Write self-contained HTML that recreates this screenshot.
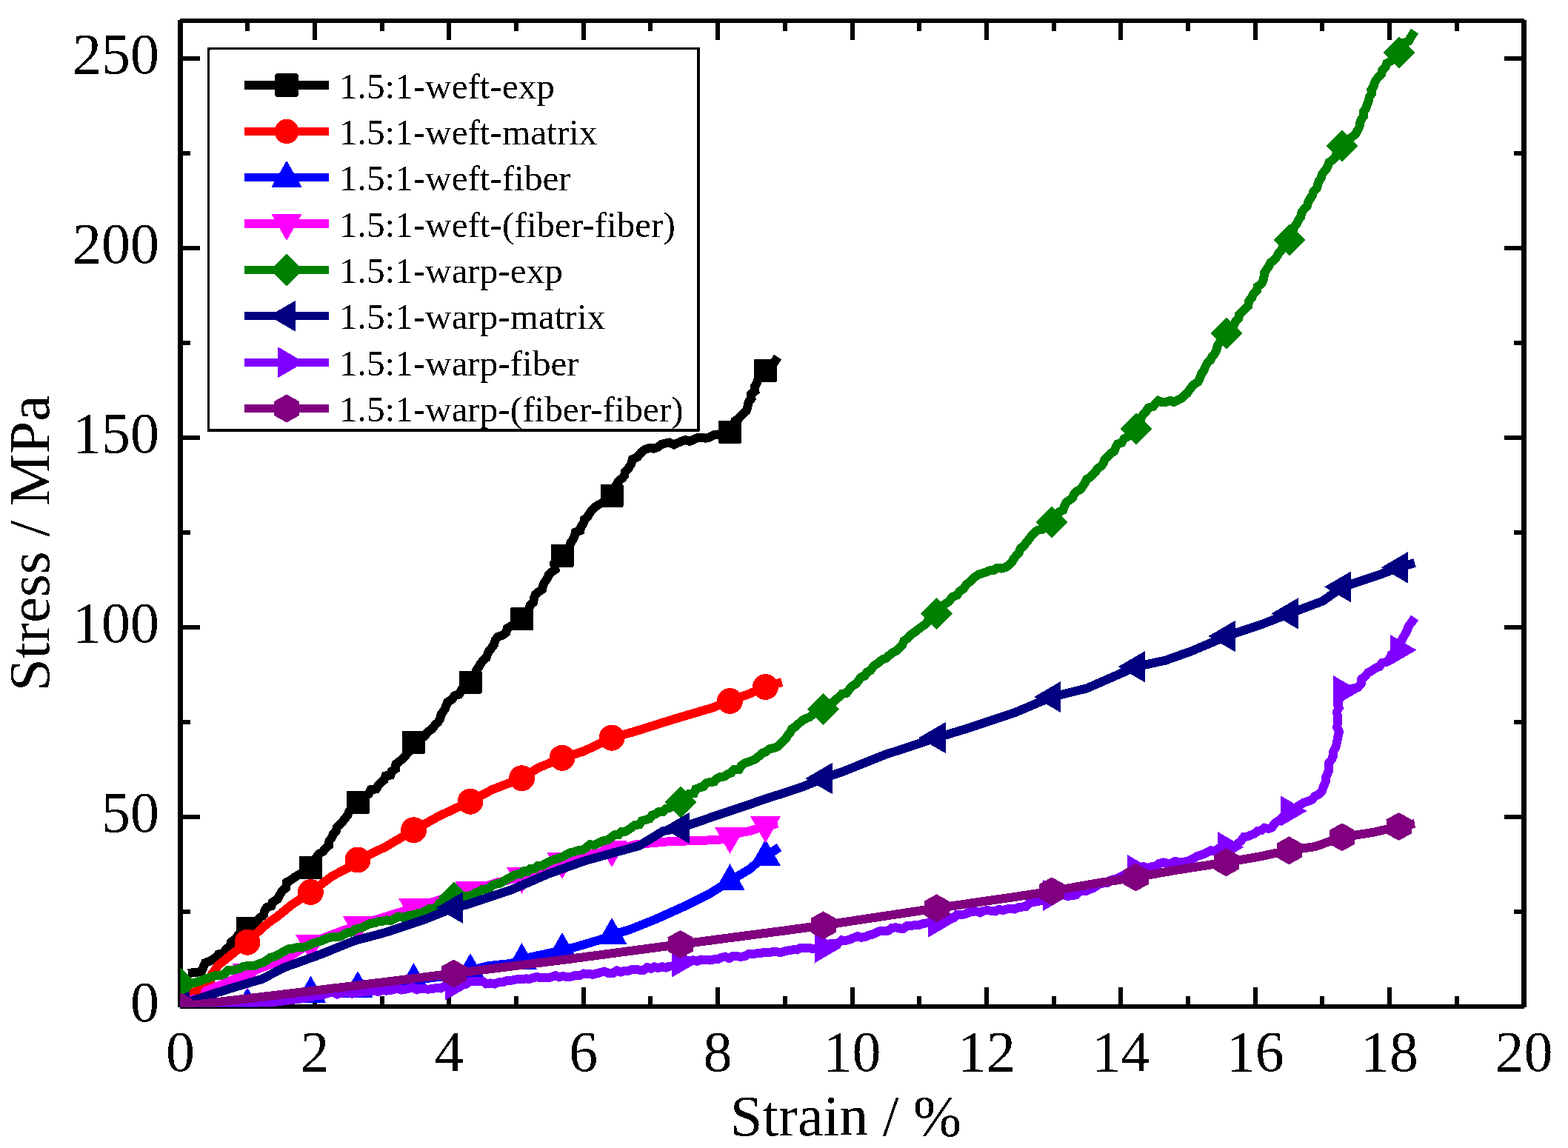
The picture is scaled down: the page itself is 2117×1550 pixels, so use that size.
<!DOCTYPE html><html><head><meta charset="utf-8"><title>Stress-strain</title><style>html,body{margin:0;padding:0;background:#fff;}svg{display:block;}text{font-family:"Liberation Serif","Times New Roman",serif;fill:#000;}</style></head><body>
<svg width="2117" height="1550" viewBox="0 0 2117 1550">
<rect x="0" y="0" width="2117" height="1550" fill="#fff"/>
<defs><filter id="crisp" x="-2%" y="-2%" width="104%" height="104%" color-interpolation-filters="sRGB"><feComponentTransfer><feFuncA type="discrete" tableValues="0 1"/></feComponentTransfer></filter></defs>
<g fill="#000" shape-rendering="crispEdges">
<rect x="240" y="27" width="7" height="1333"/>
<rect x="2054" y="27" width="7" height="1333"/>
<rect x="243" y="25" width="1815" height="6"/>
<rect x="243" y="1356" width="1815" height="6"/>
<rect x="331.2" y="1345" width="6" height="11"/>
<rect x="331.2" y="31" width="6" height="11"/>
<rect x="421.9" y="1333" width="6" height="23"/>
<rect x="421.9" y="31" width="6" height="23"/>
<rect x="512.6" y="1345" width="6" height="11"/>
<rect x="512.6" y="31" width="6" height="11"/>
<rect x="603.3" y="1333" width="6" height="23"/>
<rect x="603.3" y="31" width="6" height="23"/>
<rect x="694.0" y="1345" width="6" height="11"/>
<rect x="694.0" y="31" width="6" height="11"/>
<rect x="784.7" y="1333" width="6" height="23"/>
<rect x="784.7" y="31" width="6" height="23"/>
<rect x="875.4" y="1345" width="6" height="11"/>
<rect x="875.4" y="31" width="6" height="11"/>
<rect x="966.1" y="1333" width="6" height="23"/>
<rect x="966.1" y="31" width="6" height="23"/>
<rect x="1056.8" y="1345" width="6" height="11"/>
<rect x="1056.8" y="31" width="6" height="11"/>
<rect x="1147.5" y="1333" width="6" height="23"/>
<rect x="1147.5" y="31" width="6" height="23"/>
<rect x="1238.2" y="1345" width="6" height="11"/>
<rect x="1238.2" y="31" width="6" height="11"/>
<rect x="1328.9" y="1333" width="6" height="23"/>
<rect x="1328.9" y="31" width="6" height="23"/>
<rect x="1419.6" y="1345" width="6" height="11"/>
<rect x="1419.6" y="31" width="6" height="11"/>
<rect x="1510.3" y="1333" width="6" height="23"/>
<rect x="1510.3" y="31" width="6" height="23"/>
<rect x="1601.0" y="1345" width="6" height="11"/>
<rect x="1601.0" y="31" width="6" height="11"/>
<rect x="1691.7" y="1333" width="6" height="23"/>
<rect x="1691.7" y="31" width="6" height="23"/>
<rect x="1782.4" y="1345" width="6" height="11"/>
<rect x="1782.4" y="31" width="6" height="11"/>
<rect x="1873.1" y="1333" width="6" height="23"/>
<rect x="1873.1" y="31" width="6" height="23"/>
<rect x="1963.8" y="1345" width="6" height="11"/>
<rect x="1963.8" y="31" width="6" height="11"/>
<rect x="247" y="1228.0" width="10" height="6"/>
<rect x="2044" y="1228.0" width="10" height="6"/>
<rect x="247" y="1100.0" width="23" height="6"/>
<rect x="2031" y="1100.0" width="23" height="6"/>
<rect x="247" y="972.0" width="10" height="6"/>
<rect x="2044" y="972.0" width="10" height="6"/>
<rect x="247" y="844.0" width="23" height="6"/>
<rect x="2031" y="844.0" width="23" height="6"/>
<rect x="247" y="716.0" width="10" height="6"/>
<rect x="2044" y="716.0" width="10" height="6"/>
<rect x="247" y="588.0" width="23" height="6"/>
<rect x="2031" y="588.0" width="23" height="6"/>
<rect x="247" y="460.0" width="10" height="6"/>
<rect x="2044" y="460.0" width="10" height="6"/>
<rect x="247" y="332.0" width="23" height="6"/>
<rect x="2031" y="332.0" width="23" height="6"/>
<rect x="247" y="204.0" width="10" height="6"/>
<rect x="2044" y="204.0" width="10" height="6"/>
<rect x="247" y="76.0" width="23" height="6"/>
<rect x="2031" y="76.0" width="23" height="6"/>
</g>
<defs><clipPath id="plotclip"><rect x="243.5" y="28" width="1814" height="1331.5"/></clipPath><filter id="rough" x="-5%" y="-5%" width="110%" height="110%"><feTurbulence type="fractalNoise" baseFrequency="0.25" numOctaves="2" seed="3" result="n"/><feDisplacementMap in="SourceGraphic" in2="n" scale="5" xChannelSelector="R" yChannelSelector="G"/></filter></defs>
<g clip-path="url(#plotclip)" shape-rendering="crispEdges">
<polyline points="254.0,1314.0 272.0,1312.0 277.0,1300.0 285.0,1297.0 291.0,1293.0 295.0,1288.4 301.0,1287.0 306.0,1281.0 310.5,1277.5 312.0,1272.0 318.0,1268.0 322.0,1262.0 325.2,1258.0 330.0,1256.0 334.0,1253.0 337.8,1249.5 342.5,1247.1 346.9,1244.4 350.0,1240.0 356.0,1235.0 357.3,1229.5 360.0,1225.1 366.4,1223.3 368.0,1218.0 375.0,1214.0 377.7,1208.3 381.0,1203.0 386.1,1198.9 387.0,1191.4 393.0,1188.0 398.8,1183.8 405.0,1180.0 410.4,1178.0 413.9,1172.8 419.5,1171.0 424.6,1168.2 427.7,1163.9 427.5,1156.9 430.8,1152.7 436.0,1150.0 439.2,1145.4 443.9,1141.7 444.5,1135.4 448.0,1131.0 449.8,1125.8 453.7,1122.1 455.0,1116.6 458.8,1112.8 462.7,1109.1 466.0,1105.0 469.3,1100.7 471.5,1095.6 474.9,1091.3 478.1,1087.0 482.6,1083.6 487.6,1079.6 492.2,1075.0 498.0,1072.0 500.6,1066.2 507.9,1065.3 511.0,1060.0 514.8,1056.4 518.7,1052.9 520.6,1047.5 527.3,1046.6 529.0,1041.0 533.9,1038.2 534.5,1031.7 538.8,1028.4 543.0,1025.0 547.1,1021.1 550.1,1016.5 554.2,1012.7 555.1,1006.6 558.6,1002.3 564.6,1000.7 569.3,996.9 574.0,993.0 578.0,987.8 583.5,984.0 586.9,979.4 591.2,975.4 594.1,970.5 595.6,964.7 599.0,960.1 601.6,955.0 604.2,948.0 610.6,944.0 613.7,939.2 619.8,937.5 622.5,932.2 625.7,927.4 631.1,925.0 635.0,921.0 638.8,916.3 641.6,910.9 643.2,904.9 646.7,900.0 649.3,895.5 652.5,891.5 656.6,888.0 658.4,882.9 660.7,878.3 664.1,874.3 667.0,870.0 668.7,864.1 672.4,859.7 678.6,857.5 683.3,854.0 685.0,848.0 690.1,845.4 694.5,841.5 698.7,837.5 704.5,835.9 707.3,831.3 712.2,827.9 714.0,822.7 715.7,817.4 719.9,813.6 721.0,808.0 722.8,802.7 727.1,799.0 732.0,795.8 733.3,790.2 735.8,785.4 739.0,781.0 740.9,776.0 744.9,772.4 749.6,769.1 748.3,762.1 754.5,759.9 757.5,755.6 759.0,750.3 763.5,747.0 765.7,742.2 768.8,738.1 770.4,732.9 773.4,728.6 775.7,723.9 776.9,718.5 783.3,716.4 784.5,711.0 787.7,706.8 789.0,701.3 793.2,697.8 796.0,693.4 799.0,689.0 803.0,685.1 807.5,681.8 812.5,679.3 817.2,676.4 821.7,673.1 825.8,669.3 828.2,664.6 828.9,658.9 832.4,654.8 834.7,650.0 839.2,646.4 843.0,642.5 844.0,637.0 848.7,632.1 852.0,626.4 854.0,620.0 860.8,616.8 865.5,611.0 870.7,606.9 877.0,605.0 882.8,605.7 888.0,603.9 892.9,599.9 898.3,598.5 903.7,597.5 909.8,600.3 915.0,598.0 920.2,595.8 925.4,594.1 931.2,595.9 936.4,593.5 941.5,591.2 946.9,590.7 952.6,591.7 958.0,590.6 963.0,587.5 968.6,586.5 974.7,587.2 979.8,584.5 985.3,583.2 987.6,578.1 991.3,574.0 992.4,568.2 997.5,565.0 1002.0,559.6 1007.4,555.0 1009.4,549.2 1010.6,543.0 1014.5,538.0 1014.0,532.1 1019.4,527.9 1018.8,522.0 1021.7,517.7 1023.3,512.5 1028.0,509.3 1031.8,505.6 1033.3,500.3 1035.6,495.0 1039.4,491.6 1045.0,490.0 1050.0,482.0" fill="none" stroke="#000000" stroke-width="12" stroke-linejoin="miter" stroke-miterlimit="2.5" stroke-linecap="butt"/>
<rect x="318.5" y="1237.5" width="31.0" height="31.0" rx="1.5" fill="#000000"/>
<rect x="404.0" y="1155.5" width="31.0" height="31.0" rx="1.5" fill="#000000"/>
<rect x="467.5" y="1068.1" width="31.0" height="31.0" rx="1.5" fill="#000000"/>
<rect x="543.0" y="986.8" width="31.0" height="31.0" rx="1.5" fill="#000000"/>
<rect x="619.5" y="905.5" width="31.0" height="31.0" rx="1.5" fill="#000000"/>
<rect x="689.0" y="820.4" width="31.0" height="31.0" rx="1.5" fill="#000000"/>
<rect x="743.5" y="734.8" width="31.0" height="31.0" rx="1.5" fill="#000000"/>
<rect x="810.5" y="653.8" width="31.0" height="31.0" rx="1.5" fill="#000000"/>
<rect x="970.0" y="567.7" width="31.0" height="31.0" rx="1.5" fill="#000000"/>
<rect x="1018.0" y="484.8" width="31.0" height="31.0" rx="1.5" fill="#000000"/>
<polyline points="243.5,1347.0 256.0,1341.5 270.0,1337.0 284.0,1328.0 285.5,1316.0 295.0,1303.0 305.0,1295.0 316.0,1286.0 333.5,1272.2 356.0,1251.0 365.0,1244.0 375.0,1237.0 394.0,1221.5 419.6,1204.5 448.4,1183.0 473.0,1170.0 483.6,1161.0 520.3,1143.5 558.7,1120.8 592.5,1102.0 634.6,1082.2 664.8,1066.0 704.3,1050.8 726.2,1037.0 758.5,1023.3 787.4,1014.6 826.3,996.2 857.3,987.5 909.7,971.0 962.2,955.5 985.5,946.5 1011.0,937.0 1033.3,927.5 1055.7,921.0" fill="none" stroke="#ff0000" stroke-width="12" stroke-linejoin="round" stroke-linecap="butt"/>
<circle cx="334.0" cy="1272.2" r="17.5" fill="#ff0000"/>
<circle cx="419.5" cy="1204.5" r="17.5" fill="#ff0000"/>
<circle cx="483.0" cy="1161.0" r="17.5" fill="#ff0000"/>
<circle cx="558.5" cy="1120.8" r="17.5" fill="#ff0000"/>
<circle cx="635.0" cy="1082.2" r="17.5" fill="#ff0000"/>
<circle cx="704.5" cy="1050.8" r="17.5" fill="#ff0000"/>
<circle cx="759.0" cy="1023.3" r="17.5" fill="#ff0000"/>
<circle cx="826.0" cy="996.2" r="17.5" fill="#ff0000"/>
<circle cx="985.5" cy="946.5" r="17.5" fill="#ff0000"/>
<circle cx="1033.5" cy="927.5" r="17.5" fill="#ff0000"/>
<polyline points="243.5,1359.0 334.0,1356.0 419.5,1340.6 483.0,1334.0 520.0,1330.0 558.5,1323.0 600.0,1318.0 635.0,1310.0 660.0,1304.0 689.0,1301.0 705.0,1296.0 718.0,1292.0 746.0,1286.0 759.0,1282.0 776.0,1279.0 812.8,1268.0 826.4,1262.0 849.0,1255.6 885.5,1241.0 922.0,1224.6 958.3,1206.5 985.6,1189.4 1012.9,1173.0 1031.0,1157.0 1040.0,1152.0 1052.0,1144.0" fill="none" stroke="#0000ff" stroke-width="12" stroke-linejoin="round" stroke-linecap="butt"/>
<polygon points="334.0,1333.0 354.5,1369.0 313.5,1369.0" fill="#0000ff"/>
<polygon points="419.5,1317.6 440.0,1353.6 399.0,1353.6" fill="#0000ff"/>
<polygon points="483.0,1311.0 503.5,1347.0 462.5,1347.0" fill="#0000ff"/>
<polygon points="558.5,1300.0 579.0,1336.0 538.0,1336.0" fill="#0000ff"/>
<polygon points="635.0,1287.0 655.5,1323.0 614.5,1323.0" fill="#0000ff"/>
<polygon points="704.5,1273.0 725.0,1309.0 684.0,1309.0" fill="#0000ff"/>
<polygon points="759.0,1259.0 779.5,1295.0 738.5,1295.0" fill="#0000ff"/>
<polygon points="826.0,1239.0 846.5,1275.0 805.5,1275.0" fill="#0000ff"/>
<polygon points="985.5,1166.4 1006.0,1202.4 965.0,1202.4" fill="#0000ff"/>
<polygon points="1033.5,1133.0 1054.0,1169.0 1013.0,1169.0" fill="#0000ff"/>
<polyline points="243.5,1353.0 256.0,1350.0 276.0,1347.0 277.5,1338.0 290.0,1333.0 300.0,1329.0 323.0,1319.0 334.0,1314.0 365.0,1302.0 394.0,1290.0 415.9,1275.0 450.6,1261.0 482.5,1249.5 520.0,1238.0 558.5,1226.0 600.0,1213.0 635.8,1203.0 670.0,1192.0 704.9,1184.0 740.0,1171.0 759.0,1164.0 790.0,1155.0 826.6,1148.0 860.0,1140.0 900.0,1136.5 940.0,1135.0 970.0,1134.0 985.6,1130.0 1000.0,1124.0 1013.0,1122.0 1033.8,1115.0 1050.0,1112.0" fill="none" stroke="#ff00ff" stroke-width="12" stroke-linejoin="round" stroke-linecap="butt"/>
<polygon points="334.0,1337.0 354.5,1301.0 313.5,1301.0" fill="#ff00ff"/>
<polygon points="419.5,1298.0 440.0,1262.0 399.0,1262.0" fill="#ff00ff"/>
<polygon points="483.0,1272.5 503.5,1236.5 462.5,1236.5" fill="#ff00ff"/>
<polygon points="558.5,1249.0 579.0,1213.0 538.0,1213.0" fill="#ff00ff"/>
<polygon points="635.0,1226.0 655.5,1190.0 614.5,1190.0" fill="#ff00ff"/>
<polygon points="704.5,1207.0 725.0,1171.0 684.0,1171.0" fill="#ff00ff"/>
<polygon points="759.0,1187.0 779.5,1151.0 738.5,1151.0" fill="#ff00ff"/>
<polygon points="826.0,1171.0 846.5,1135.0 805.5,1135.0" fill="#ff00ff"/>
<polygon points="985.5,1153.0 1006.0,1117.0 965.0,1117.0" fill="#ff00ff"/>
<polygon points="1033.5,1138.3 1054.0,1102.3 1013.0,1102.3" fill="#ff00ff"/>
<polyline points="243.5,1328.0 262.7,1327.0 276.8,1322.0 292.7,1316.7 298.4,1316.6 303.6,1314.9 307.8,1310.2 313.5,1310.0 323.0,1308.0 329.7,1304.6 337.2,1304.0 344.0,1303.7 350.3,1301.0 355.6,1299.3 360.3,1296.7 364.6,1293.1 370.0,1291.6 374.9,1289.2 379.7,1286.7 384.5,1284.0 389.4,1281.4 394.9,1280.9 400.1,1279.3 405.7,1279.0 411.2,1278.5 416.4,1276.9 421.3,1274.0 426.4,1272.3 431.7,1271.0 437.3,1268.8 442.9,1266.6 448.6,1265.1 454.8,1265.3 460.6,1264.0 464.9,1261.2 469.6,1259.1 475.0,1258.5 479.0,1255.0 484.5,1253.5 489.9,1252.0 495.0,1249.2 500.2,1246.8 506.0,1246.3 511.2,1244.0 517.0,1243.6 522.2,1242.4 527.9,1242.9 532.9,1240.5 537.7,1237.5 543.5,1238.8 548.7,1237.2 553.8,1235.8 559.2,1235.1 564.3,1233.4 569.6,1232.3 574.6,1230.0 579.1,1227.3 584.8,1227.1 589.5,1224.8 593.0,1219.9 598.7,1219.6 603.4,1217.2 607.7,1214.1 612.5,1212.0 619.0,1211.3 625.5,1210.4 632.0,1209.6 637.4,1209.0 641.5,1205.5 646.7,1204.5 650.8,1200.9 656.3,1200.6 661.1,1198.6 665.2,1195.1 670.1,1193.4 675.3,1192.5 679.8,1189.8 684.2,1187.0 689.0,1185.0 693.3,1182.2 698.0,1180.6 703.2,1179.9 707.1,1176.3 712.7,1176.8 716.5,1172.8 722.0,1173.0 725.8,1169.1 731.4,1169.3 735.6,1166.6 740.0,1164.0 745.1,1162.0 750.3,1160.1 755.6,1158.5 760.7,1156.3 765.5,1153.4 770.5,1151.0 776.0,1150.0 781.3,1148.0 787.1,1147.3 791.9,1144.2 796.5,1140.3 802.7,1140.8 807.8,1138.4 812.8,1135.6 820.0,1134.2 826.0,1130.0 830.2,1127.0 835.6,1126.8 839.2,1122.5 844.6,1122.5 849.0,1120.0 853.2,1116.7 857.6,1113.9 863.4,1113.3 866.5,1108.3 871.9,1106.9 877.0,1105.4 880.5,1100.8 885.5,1099.0 889.8,1095.8 895.5,1095.7 899.5,1091.9 904.7,1090.6 908.3,1086.1 913.6,1084.8 918.5,1083.0 922.2,1078.8 927.6,1077.0 930.7,1072.0 936.9,1071.2 939.3,1065.3 944.7,1063.4 949.8,1061.9 953.4,1057.4 958.5,1055.9 964.1,1055.5 967.8,1051.2 972.5,1049.0 978.0,1048.5 982.3,1045.2 987.2,1043.4 991.1,1039.2 997.6,1039.2 1000.7,1033.8 1005.2,1030.6 1010.5,1028.7 1015.8,1026.7 1020.7,1024.3 1025.0,1020.7 1029.1,1016.9 1034.2,1015.0 1038.4,1011.4 1043.8,1010.1 1049.1,1008.5 1053.4,1005.0 1057.2,1001.3 1060.8,997.5 1063.5,992.9 1066.9,989.0 1069.0,984.0 1074.3,981.1 1078.6,976.9 1083.0,972.7 1088.4,970.0 1093.3,968.1 1097.3,964.5 1101.5,961.4 1106.7,960.1 1111.4,957.8 1116.6,955.5 1119.3,950.0 1124.7,948.0 1128.7,944.1 1133.3,941.1 1136.9,936.7 1143.0,935.7 1146.4,931.0 1150.0,926.6 1155.0,923.9 1158.7,919.6 1161.9,914.8 1167.3,912.6 1170.5,907.7 1175.5,905.0 1178.6,900.4 1182.7,897.0 1187.2,894.0 1191.2,890.5 1196.5,888.7 1200.4,885.0 1204.5,881.6 1209.8,879.0 1213.9,875.0 1218.1,871.3 1220.4,865.4 1225.1,862.1 1228.7,857.7 1233.5,854.5 1238.1,851.1 1242.5,847.5 1247.3,844.3 1251.4,840.4 1254.7,835.5 1259.5,832.3 1264.0,828.8 1267.7,825.3 1269.9,820.4 1273.6,816.9 1278.2,814.3 1282.0,811.0 1285.8,805.9 1292.0,803.6 1295.6,798.3 1301.0,795.0 1303.9,790.2 1308.0,786.6 1312.1,782.9 1316.0,779.1 1320.6,776.0 1325.8,774.4 1330.9,772.6 1335.9,770.5 1341.5,770.0 1346.2,766.9 1352.1,767.6 1357.3,766.2 1362.0,763.0 1366.1,759.2 1368.7,754.2 1372.3,750.0 1376.0,745.8 1377.9,740.3 1382.6,737.0 1385.8,732.2 1389.6,727.7 1393.0,723.0 1396.8,719.0 1401.1,715.7 1407.0,714.8 1410.6,710.5 1415.4,707.9 1419.8,704.8 1424.5,701.5 1427.2,696.5 1429.8,691.5 1435.3,688.9 1437.1,683.2 1439.6,678.2 1444.5,675.0 1448.4,671.6 1450.3,666.4 1454.2,663.0 1459.1,660.5 1462.0,656.2 1465.0,652.0 1467.2,647.1 1471.8,644.5 1475.2,640.8 1478.8,637.3 1481.6,632.9 1485.8,630.0 1489.5,625.9 1491.5,620.4 1495.5,616.5 1499.2,612.4 1504.2,609.3 1506.4,604.0 1509.2,599.3 1514.8,597.5 1517.3,592.5 1522.1,589.9 1525.5,585.9 1529.5,582.5 1533.5,579.0 1537.1,574.7 1538.9,569.2 1540.8,563.9 1543.7,559.1 1547.7,555.0 1550.8,550.4 1556.7,549.0 1560.3,544.9 1564.0,541.0 1569.0,543.1 1574.3,542.7 1579.8,540.8 1584.8,543.0 1589.8,540.5 1594.8,537.8 1599.0,534.0 1603.1,530.7 1606.0,526.3 1609.1,522.2 1612.9,518.6 1617.3,515.6 1620.0,511.0 1621.7,505.4 1625.1,500.5 1627.4,495.2 1630.0,490.0 1634.2,486.4 1636.6,481.7 1639.8,477.5 1642.4,472.9 1643.5,467.4 1646.2,462.8 1649.8,458.9 1651.9,454.0 1655.5,450.0 1658.4,445.7 1662.3,442.1 1666.1,438.5 1668.3,433.7 1672.1,430.1 1673.2,424.4 1677.1,420.8 1680.6,417.0 1685.3,413.1 1686.0,406.5 1690.1,402.1 1692.3,396.5 1696.8,392.5 1697.8,387.1 1702.7,383.7 1705.3,379.1 1706.5,373.9 1707.2,368.3 1710.0,363.9 1713.0,359.5 1715.7,354.5 1720.4,351.0 1723.8,346.6 1726.6,341.6 1730.3,337.4 1732.5,332.0 1737.2,328.5 1740.5,324.0 1744.5,319.3 1746.3,313.6 1746.7,307.2 1750.6,302.4 1753.0,297.0 1756.4,292.4 1757.6,286.6 1761.0,282.0 1764.9,278.0 1766.2,272.6 1769.0,268.0 1771.9,263.7 1773.3,258.6 1777.4,255.0 1779.0,250.1 1780.4,245.0 1783.7,240.1 1785.4,234.3 1789.4,229.9 1792.6,225.0 1794.4,219.4 1799.3,216.0 1803.4,212.0 1804.6,205.9 1808.8,202.0 1812.0,197.4 1816.2,193.1 1820.2,188.6 1825.1,185.1 1829.9,181.4 1833.0,176.0 1835.4,171.2 1836.2,166.0 1838.0,161.0 1841.4,156.6 1841.0,150.8 1844.2,146.3 1845.7,141.2 1847.9,136.3 1848.8,131.0 1851.7,126.7 1851.4,121.2 1854.5,116.9 1855.8,112.0 1858.1,107.5 1861.6,103.6 1865.1,99.8 1866.3,94.6 1870.3,91.0 1872.4,85.5 1877.3,82.7 1881.6,79.4 1885.7,75.9 1888.4,71.0 1891.9,67.2 1895.5,63.4 1896.3,57.5 1902.0,55.4 1904.5,50.8 1907.2,46.4 1910.0,42.0" fill="none" stroke="#008000" stroke-width="12" stroke-linejoin="miter" stroke-miterlimit="2.5" stroke-linecap="butt"/>
<polygon points="243.5,1306.5 265.0,1328.0 243.5,1349.5 222.0,1328.0" fill="#008000"/>
<polygon points="612.5,1190.5 634.0,1212.0 612.5,1233.5 591.0,1212.0" fill="#008000"/>
<polygon points="918.5,1061.5 940.0,1083.0 918.5,1104.5 897.0,1083.0" fill="#008000"/>
<polygon points="1111.5,936.3 1133.0,957.8 1111.5,979.3 1090.0,957.8" fill="#008000"/>
<polygon points="1264.5,807.3 1286.0,828.8 1264.5,850.3 1243.0,828.8" fill="#008000"/>
<polygon points="1420.0,683.3 1441.5,704.8 1420.0,726.3 1398.5,704.8" fill="#008000"/>
<polygon points="1533.5,557.5 1555.0,579.0 1533.5,600.5 1512.0,579.0" fill="#008000"/>
<polygon points="1655.5,428.5 1677.0,450.0 1655.5,471.5 1634.0,450.0" fill="#008000"/>
<polygon points="1740.5,302.5 1762.0,324.0 1740.5,345.5 1719.0,324.0" fill="#008000"/>
<polygon points="1812.0,175.9 1833.5,197.4 1812.0,218.9 1790.5,197.4" fill="#008000"/>
<polygon points="1888.5,49.5 1910.0,71.0 1888.5,92.5 1867.0,71.0" fill="#008000"/>
<polyline points="243.5,1359.0 262.7,1350.0 308.0,1335.5 353.4,1322.0 384.5,1306.0 431.7,1289.0 479.0,1270.0 517.0,1260.0 574.6,1241.0 612.5,1225.6 632.0,1221.0 689.0,1202.0 740.0,1180.0 790.0,1162.0 862.8,1142.0 895.5,1122.0 919.0,1118.0 940.0,1110.4 987.2,1094.5 1034.5,1078.4 1081.7,1063.0 1111.7,1051.0 1140.0,1041.0 1194.8,1019.0 1265.0,996.0 1311.0,982.0 1369.0,962.6 1420.0,941.0 1467.0,929.5 1534.0,900.2 1573.5,891.6 1609.0,879.0 1656.0,859.0 1703.4,843.0 1741.0,828.4 1786.0,811.5 1812.6,792.4 1857.0,778.0 1888.6,766.3 1910.0,760.0" fill="none" stroke="#000080" stroke-width="12" stroke-linejoin="round" stroke-linecap="butt"/>
<polygon points="219.5,1359.0 255.5,1338.0 255.5,1380.0" fill="#000080"/>
<polygon points="588.5,1225.6 624.5,1204.6 624.5,1246.6" fill="#000080"/>
<polygon points="894.5,1118.0 930.5,1097.0 930.5,1139.0" fill="#000080"/>
<polygon points="1087.5,1051.0 1123.5,1030.0 1123.5,1072.0" fill="#000080"/>
<polygon points="1240.5,996.0 1276.5,975.0 1276.5,1017.0" fill="#000080"/>
<polygon points="1396.0,941.0 1432.0,920.0 1432.0,962.0" fill="#000080"/>
<polygon points="1509.5,900.2 1545.5,879.2 1545.5,921.2" fill="#000080"/>
<polygon points="1631.5,859.0 1667.5,838.0 1667.5,880.0" fill="#000080"/>
<polygon points="1716.5,828.4 1752.5,807.4 1752.5,849.4" fill="#000080"/>
<polygon points="1788.0,792.4 1824.0,771.4 1824.0,813.4" fill="#000080"/>
<polygon points="1864.5,766.3 1900.5,745.3 1900.5,787.3" fill="#000080"/>
<polyline points="243.5,1359.0 300.0,1358.0 353.0,1355.0 410.0,1348.0 414.8,1346.1 420.0,1346.2 424.9,1344.5 430.1,1344.4 435.1,1343.4 440.0,1342.0 444.9,1340.2 449.9,1339.7 455.1,1342.5 460.0,1341.0 465.1,1339.8 470.2,1339.3 475.5,1341.7 480.4,1339.5 485.7,1340.4 490.7,1338.8 495.8,1339.0 500.8,1336.9 506.1,1338.3 511.2,1338.8 516.3,1337.2 521.4,1337.6 526.5,1337.0 531.6,1336.0 536.8,1334.2 542.1,1336.6 547.3,1335.8 552.4,1334.6 557.6,1333.4 563.0,1336.2 568.1,1334.6 573.4,1335.3 578.6,1335.7 583.8,1335.0 589.0,1334.0 595.0,1334.5 600.4,1331.6 606.4,1332.1 612.0,1330.0 617.6,1329.0 623.6,1329.9 629.2,1328.8 634.5,1325.2 640.1,1324.5 646.0,1325.0 651.6,1324.9 656.5,1328.4 662.2,1327.4 667.6,1328.5 674.8,1326.0 679.9,1325.8 684.7,1323.9 689.9,1323.9 694.8,1322.8 699.8,1322.0 705.0,1322.1 710.0,1321.4 715.2,1321.8 720.1,1320.3 725.0,1319.0 730.0,1320.4 735.0,1320.0 740.1,1320.3 745.0,1319.0 750.0,1317.1 755.0,1319.4 760.0,1318.0 765.9,1319.2 771.7,1318.5 777.3,1316.7 783.1,1316.8 788.7,1314.5 794.6,1315.0 800.1,1315.7 805.5,1314.4 810.9,1312.9 816.2,1311.7 821.9,1314.1 827.4,1314.1 832.6,1310.4 838.2,1312.6 843.5,1310.7 849.0,1310.6 853.8,1308.8 858.9,1308.8 864.0,1309.9 869.0,1309.8 873.7,1306.2 878.9,1307.7 883.6,1305.2 888.9,1307.0 893.7,1305.1 898.9,1306.5 903.7,1304.6 909.2,1304.4 913.6,1300.9 918.5,1299.0 924.3,1300.4 929.8,1297.6 935.5,1296.4 941.3,1297.9 946.8,1295.5 952.5,1295.8 958.3,1296.5 963.5,1295.4 968.8,1295.3 973.7,1292.9 978.9,1291.7 984.5,1293.9 989.4,1291.1 994.7,1291.0 1000.1,1291.9 1005.3,1291.0 1010.2,1288.4 1015.4,1288.0 1020.6,1287.5 1025.9,1287.2 1031.0,1286.0 1036.8,1285.9 1042.6,1285.4 1048.4,1285.2 1054.3,1286.0 1060.0,1284.0 1065.2,1283.3 1070.3,1282.3 1075.6,1282.5 1080.5,1280.1 1085.7,1279.5 1091.0,1279.5 1097.6,1281.2 1104.1,1279.6 1110.7,1279.5 1116.0,1278.0 1120.7,1274.4 1126.5,1274.1 1131.9,1273.0 1136.6,1269.4 1142.6,1269.8 1147.9,1268.1 1153.0,1266.0 1157.9,1264.1 1163.0,1265.8 1168.0,1265.0 1173.3,1262.7 1178.9,1261.3 1184.0,1258.5 1189.0,1257.0 1194.4,1257.3 1199.5,1256.5 1204.1,1253.0 1209.3,1252.2 1214.8,1253.5 1220.1,1253.5 1224.7,1250.1 1230.0,1250.0 1235.6,1249.0 1241.4,1248.7 1246.9,1246.9 1252.6,1246.2 1258.2,1245.2 1264.0,1245.0 1268.7,1243.1 1273.8,1242.4 1278.4,1240.0 1283.3,1238.8 1288.6,1238.7 1292.6,1234.7 1298.1,1235.1 1303.1,1234.3 1307.7,1232.0 1312.8,1231.0 1317.9,1230.3 1323.2,1232.1 1328.2,1229.7 1333.3,1229.2 1338.6,1229.8 1343.8,1230.4 1348.8,1227.9 1354.0,1229.0 1359.1,1227.5 1364.3,1226.6 1369.8,1227.5 1374.8,1225.3 1380.0,1224.6 1385.4,1223.8 1389.3,1219.6 1394.4,1218.2 1399.7,1217.3 1404.9,1216.1 1409.2,1212.7 1413.8,1210.0 1419.0,1209.0 1424.6,1207.6 1430.2,1209.1 1435.8,1207.9 1441.4,1210.1 1447.0,1209.0 1452.2,1208.4 1456.1,1204.4 1461.0,1202.9 1466.5,1203.0 1471.0,1200.6 1476.0,1199.4 1480.2,1196.1 1484.7,1193.6 1489.7,1192.4 1495.1,1192.3 1499.2,1188.8 1504.0,1187.3 1509.0,1186.0 1513.7,1183.5 1518.5,1181.2 1523.3,1178.9 1528.8,1178.3 1533.0,1174.7 1538.1,1172.0 1543.4,1170.1 1549.7,1171.9 1555.1,1170.2 1560.6,1169.1 1565.5,1165.7 1571.0,1164.5 1576.2,1165.9 1581.4,1165.5 1586.5,1162.8 1591.7,1164.4 1596.9,1164.5 1602.0,1163.0 1606.9,1161.5 1611.4,1159.1 1615.8,1156.3 1620.6,1154.5 1625.5,1153.0 1630.1,1150.5 1634.8,1148.4 1640.2,1148.7 1644.8,1146.1 1650.3,1146.3 1654.8,1143.7 1659.5,1140.9 1665.3,1142.6 1670.0,1140.0 1675.3,1135.5 1679.6,1130.0 1684.8,1129.4 1689.4,1127.3 1694.0,1125.3 1698.0,1122.0 1702.9,1121.0 1707.3,1117.8 1712.8,1119.1 1717.4,1117.0 1720.3,1112.5 1724.4,1109.2 1729.1,1106.4 1732.5,1102.4 1736.0,1098.4 1740.0,1095.0 1745.9,1093.8 1750.5,1090.2 1755.2,1086.7 1760.2,1083.8 1765.8,1082.0 1771.4,1079.6 1775.4,1074.9 1780.8,1072.3 1785.0,1068.0 1787.0,1061.3 1790.0,1055.0 1789.9,1049.8 1792.1,1045.0 1794.1,1040.2 1794.0,1035.0 1794.4,1029.7 1798.0,1025.3 1800.0,1020.4 1800.0,1015.0 1803.1,1009.0 1805.1,1002.7 1806.0,996.0 1808.0,988.0 1805.2,981.8 1806.0,975.0 1806.0,968.0 1805.0,961.0 1807.7,955.7 1806.2,949.4 1808.4,944.0 1809.8,938.4 1812.0,933.0 1817.4,931.8 1822.7,930.2 1828.2,929.2 1833.6,928.0 1837.6,923.5 1838.3,917.0 1843.0,913.0 1847.0,908.4 1852.1,905.4 1857.0,902.1 1862.6,900.0 1865.8,895.1 1872.1,893.8 1876.0,889.8 1878.4,884.0 1883.6,881.3 1887.8,877.6 1889.2,872.4 1891.3,867.5 1893.5,862.7 1896.0,858.0 1899.5,851.7 1902.0,845.0 1906.3,839.7 1910.0,834.0" fill="none" stroke="#8000ff" stroke-width="12" stroke-linejoin="miter" stroke-miterlimit="2.5" stroke-linecap="butt"/>
<polygon points="267.5,1359.0 231.5,1338.0 231.5,1380.0" fill="#8000ff"/>
<polygon points="636.5,1330.0 600.5,1309.0 600.5,1351.0" fill="#8000ff"/>
<polygon points="942.5,1299.0 906.5,1278.0 906.5,1320.0" fill="#8000ff"/>
<polygon points="1135.5,1279.5 1099.5,1258.5 1099.5,1300.5" fill="#8000ff"/>
<polygon points="1288.5,1245.0 1252.5,1224.0 1252.5,1266.0" fill="#8000ff"/>
<polygon points="1444.0,1209.0 1408.0,1188.0 1408.0,1230.0" fill="#8000ff"/>
<polygon points="1557.5,1174.7 1521.5,1153.7 1521.5,1195.7" fill="#8000ff"/>
<polygon points="1679.5,1143.7 1643.5,1122.7 1643.5,1164.7" fill="#8000ff"/>
<polygon points="1764.5,1095.0 1728.5,1074.0 1728.5,1116.0" fill="#8000ff"/>
<polygon points="1836.0,933.0 1800.0,912.0 1800.0,954.0" fill="#8000ff"/>
<polygon points="1912.5,877.6 1876.5,856.6 1876.5,898.6" fill="#8000ff"/>
<polyline points="243.5,1359.0 353.4,1346.0 460.0,1333.3 612.0,1314.5 760.0,1296.0 918.3,1275.0 1060.0,1256.4 1111.0,1249.4 1264.0,1226.3 1380.0,1209.5 1419.2,1203.4 1478.4,1193.0 1533.0,1184.5 1586.7,1175.0 1655.0,1164.3 1698.0,1157.0 1740.0,1148.3 1775.5,1143.0 1812.0,1130.3 1853.0,1124.0 1888.5,1116.0 1910.0,1112.0" fill="none" stroke="#800080" stroke-width="12" stroke-linejoin="round" stroke-linecap="butt"/>
<polygon points="243.5,1340.0 260.5,1349.5 260.5,1368.5 243.5,1378.0 226.5,1368.5 226.5,1349.5" fill="#800080"/>
<polygon points="612.5,1295.5 629.5,1305.0 629.5,1324.0 612.5,1333.5 595.5,1324.0 595.5,1305.0" fill="#800080"/>
<polygon points="918.5,1256.0 935.5,1265.5 935.5,1284.5 918.5,1294.0 901.5,1284.5 901.5,1265.5" fill="#800080"/>
<polygon points="1111.5,1230.4 1128.5,1239.9 1128.5,1258.9 1111.5,1268.4 1094.5,1258.9 1094.5,1239.9" fill="#800080"/>
<polygon points="1264.5,1207.3 1281.5,1216.8 1281.5,1235.8 1264.5,1245.3 1247.5,1235.8 1247.5,1216.8" fill="#800080"/>
<polygon points="1420.0,1184.4 1437.0,1193.9 1437.0,1212.9 1420.0,1222.4 1403.0,1212.9 1403.0,1193.9" fill="#800080"/>
<polygon points="1533.5,1165.5 1550.5,1175.0 1550.5,1194.0 1533.5,1203.5 1516.5,1194.0 1516.5,1175.0" fill="#800080"/>
<polygon points="1655.5,1145.3 1672.5,1154.8 1672.5,1173.8 1655.5,1183.3 1638.5,1173.8 1638.5,1154.8" fill="#800080"/>
<polygon points="1740.5,1129.3 1757.5,1138.8 1757.5,1157.8 1740.5,1167.3 1723.5,1157.8 1723.5,1138.8" fill="#800080"/>
<polygon points="1812.0,1111.3 1829.0,1120.8 1829.0,1139.8 1812.0,1149.3 1795.0,1139.8 1795.0,1120.8" fill="#800080"/>
<polygon points="1888.5,1097.0 1905.5,1106.5 1905.5,1125.5 1888.5,1135.0 1871.5,1125.5 1871.5,1106.5" fill="#800080"/>
</g>
<g filter="url(#crisp)">
<text x="215" y="1379.0" font-size="78" text-anchor="end">0</text>
<text x="215" y="1123.0" font-size="78" text-anchor="end">50</text>
<text x="215" y="867.0" font-size="78" text-anchor="end">100</text>
<text x="215" y="611.0" font-size="78" text-anchor="end">150</text>
<text x="215" y="355.0" font-size="78" text-anchor="end">200</text>
<text x="215" y="99.0" font-size="78" text-anchor="end">250</text>
<text x="243.5" y="1446" font-size="78" text-anchor="middle">0</text>
<text x="424.9" y="1446" font-size="78" text-anchor="middle">2</text>
<text x="606.3" y="1446" font-size="78" text-anchor="middle">4</text>
<text x="787.7" y="1446" font-size="78" text-anchor="middle">6</text>
<text x="969.1" y="1446" font-size="78" text-anchor="middle">8</text>
<text x="1150.5" y="1446" font-size="78" text-anchor="middle">10</text>
<text x="1331.9" y="1446" font-size="78" text-anchor="middle">12</text>
<text x="1513.3" y="1446" font-size="78" text-anchor="middle">14</text>
<text x="1694.7" y="1446" font-size="78" text-anchor="middle">16</text>
<text x="1876.1" y="1446" font-size="78" text-anchor="middle">18</text>
<text x="2057.5" y="1446" font-size="78" text-anchor="middle">20</text>
<text x="1142" y="1533" font-size="78" text-anchor="middle">Strain / %</text>
<text transform="translate(66,733.5) rotate(-90)" font-size="79" text-anchor="middle">Stress / MPa</text>
<rect x="281.7" y="65.7" width="661.3" height="515.3" fill="none" stroke="#000" stroke-width="3.4"/>
<line x1="330" y1="115.0" x2="444" y2="115.0" stroke="#000000" stroke-width="11"/>
<rect x="371.5" y="99.5" width="31.0" height="31.0" rx="1.5" fill="#000000"/>
<text x="458" y="132.5" font-size="49.2">1.5:1-weft-exp</text>
<line x1="330" y1="177.4" x2="444" y2="177.4" stroke="#ff0000" stroke-width="11"/>
<circle cx="387.0" cy="177.4" r="16.6" fill="#ff0000"/>
<text x="458" y="194.9" font-size="49.2">1.5:1-weft-matrix</text>
<line x1="330" y1="239.7" x2="444" y2="239.7" stroke="#0000ff" stroke-width="11"/>
<polygon points="387.0,216.7 407.5,252.7 366.5,252.7" fill="#0000ff"/>
<text x="458" y="257.2" font-size="49.2">1.5:1-weft-fiber</text>
<line x1="330" y1="302.1" x2="444" y2="302.1" stroke="#ff00ff" stroke-width="11"/>
<polygon points="387.0,325.1 407.5,289.1 366.5,289.1" fill="#ff00ff"/>
<text x="458" y="319.6" font-size="49.2">1.5:1-weft-(fiber-fiber)</text>
<line x1="330" y1="364.4" x2="444" y2="364.4" stroke="#008000" stroke-width="11"/>
<polygon points="387.0,342.9 408.5,364.4 387.0,385.9 365.5,364.4" fill="#008000"/>
<text x="458" y="381.9" font-size="49.2">1.5:1-warp-exp</text>
<line x1="330" y1="426.8" x2="444" y2="426.8" stroke="#000080" stroke-width="11"/>
<polygon points="363.0,426.8 399.0,405.8 399.0,447.8" fill="#000080"/>
<text x="458" y="444.3" font-size="49.2">1.5:1-warp-matrix</text>
<line x1="330" y1="489.2" x2="444" y2="489.2" stroke="#8000ff" stroke-width="11"/>
<polygon points="411.0,489.2 375.0,468.2 375.0,510.2" fill="#8000ff"/>
<text x="458" y="506.7" font-size="49.2">1.5:1-warp-fiber</text>
<line x1="330" y1="551.5" x2="444" y2="551.5" stroke="#800080" stroke-width="11"/>
<polygon points="387.0,532.5 404.0,542.0 404.0,561.0 387.0,570.5 370.0,561.0 370.0,542.0" fill="#800080"/>
<text x="458" y="569.0" font-size="49.2">1.5:1-warp-(fiber-fiber)</text>
</g>
</svg></body></html>
